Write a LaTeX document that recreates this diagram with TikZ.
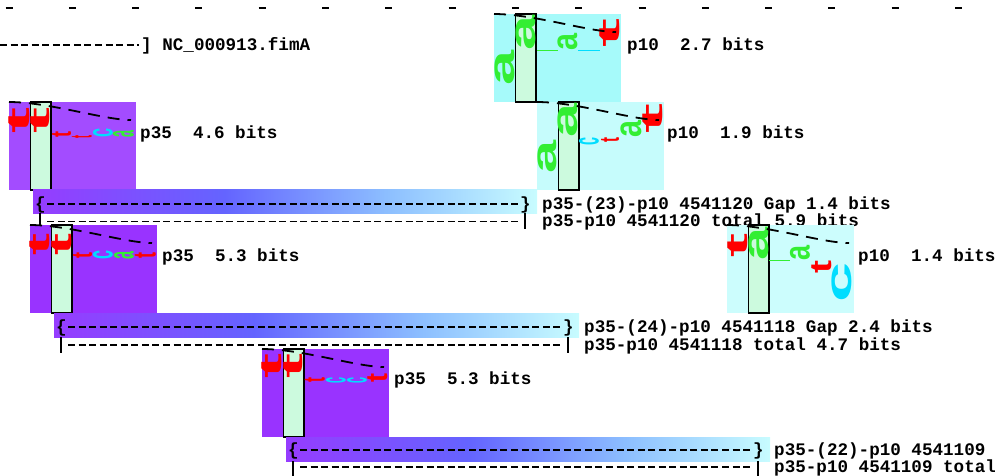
\documentclass[tikz,border=0pt]{standalone}
\usepackage{fontspec}
\setmonofont{Liberation Mono}
\newfontfamily\logofont{Liberation Sans}
\newcommand{\mono}{\ttfamily\bfseries\fontsize{17.6}{20}\selectfont}

\definecolor{tenA}{RGB}{166,250,250}
\definecolor{tenB}{RGB}{198,252,252}
\definecolor{tenC}{RGB}{204,253,253}
\definecolor{fiveA}{RGB}{163,76,255}
\definecolor{fiveB}{RGB}{153,51,255}
\definecolor{colfill}{RGB}{204,250,222}
\definecolor{baseA}{RGB}{51,238,51}
\definecolor{baseC}{RGB}{0,221,255}
\definecolor{baseT}{RGB}{255,0,0}
\definecolor{barL}{RGB}{150,60,255}
\definecolor{barM}{RGB}{100,100,255}
\definecolor{barS}{RGB}{140,190,255}
\definecolor{barR}{RGB}{200,252,255}
\pgfdeclarehorizontalshading{gapbar}{100bp}{color(0bp)=(barL); color(25bp)=(barL); color(44bp)=(barM); color(60bp)=(barS); color(75bp)=(barR); color(100bp)=(barR)}

% one letter of a logo: x y w h colour letter (inside the logo)
\newcommand{\logobase}[6]{%
  \pgfmathsetmacro\bx{#1+#3/2}\pgfmathsetmacro\by{#2+#4/2}%
  \node[inner sep=0pt,rotate=90,text=#5] at (\bx,\by) {\resizebox*{#4pt}{#3pt}{\logofont\bfseries #6}};}
\newcommand{\logoframe}[1]{%
  \fill[#1] (0,0) rectangle (127,88);
  \draw[colbox] (21.5,0) rectangle (42,88);}
\newcommand{\logocurve}{\draw[decay] (0,0) .. controls (40,0) and (95,18) .. (122,18);}

\begin{document}
\begin{tikzpicture}[x=1pt,y=-1pt,
  lbl/.style={anchor=base west,inner sep=0pt,font=\mono},
  rulertick/.style={line width=1.8pt},
  rule/.style={line width=1.4pt,dash pattern=on 7pt off 3.55pt},
  bar/.style={line width=1.6pt},
  colbox/.style={draw=black,line width=1.3pt,fill=colfill},
  decay/.style={line width=1.8pt,dash pattern=on 12pt off 8pt},
  zero/.style={line width=0.6pt}]
\useasboundingbox (0,0) rectangle (995,475);

% ruler
\foreach \i in {0,...,15}
  \draw[rulertick] ({9+63.3*\i-3.5},8) -- ++(7,0);

% site
\draw[rule] (0,45) -- (139,45);
\node[lbl] (fimA) at (141,50) {] NC\_000913.fimA};

% p10 2.7 bits
\begin{scope}[shift={(494,14)}]
 \logoframe{tenA}
 \logobase{1}{36}{20}{35}{baseA}{a}
 \logobase{22}{1}{20}{35}{baseA}{a}
 \draw[zero,baseA] (43,36) -- (64,36);
 \logobase{64}{19}{20}{17}{baseA}{a}
 \draw[zero,baseC] (84,36) -- (106,36);
 \logobase{106}{4}{20}{29}{baseT}{t}
 \logocurve
\end{scope}
\node[lbl] (tenfirst) at (627,50) {p10\ \ 2.7 bits};

% p35 4.6 bits
\begin{scope}[shift={(9,102)}]
 \logoframe{fiveA}
 \logobase{0}{5}{21}{26}{baseT}{t}
 \logobase{22}{5}{19}{26}{baseT}{t}
 \logobase{43}{29}{19}{6}{baseT}{t}
 \logobase{63}{33}{20}{3}{baseT}{t}
 \logobase{84}{26}{20}{9}{baseC}{c}
 \logobase{104}{28}{21}{7}{baseA}{a}
 \logocurve
\end{scope}
\node[lbl] (fivefirst) at (140,138) {p35\ \ 4.6 bits};

% p10 1.9 bits
\begin{scope}[shift={(537,102)}]
 \logoframe{tenB}
 \logobase{1}{38}{19}{33}{baseA}{a}
 \logobase{21}{1}{20}{34}{baseA}{a}
 \logobase{42}{35}{20}{8}{baseC}{c}
 \logobase{64}{35}{18}{5}{baseT}{t}
 \logobase{84}{18}{21}{17}{baseA}{a}
 \logobase{106}{1}{20}{30}{baseT}{t}
 \logocurve
\end{scope}
\node[lbl] (tensecond) at (667,138) {p10\ \ 1.9 bits};

% gap 23
\shade[shading=gapbar] (33,189) rectangle (537,213);
\node[lbl] (openA) at (35,209) {\{};
\node[lbl] (closeA) at (520,209) {\}};
\draw[rule] (47,204) -- (519,204);
\draw[bar] (40,213) -- (40,229);
\draw[bar] (525,213) -- (525,229);
\draw[rule] (47,221.5) -- (519,221.5);
\node[lbl] (gapA) at (542,209) {p35-(23)-p10 4541120 Gap 1.4 bits};
\node[lbl] (totalA) at (542,226.5) {p35-p10 4541120 total 5.9 bits};

% p35 5.3 bits
\begin{scope}[shift={(30,225)}]
 \logoframe{fiveB}
 \logobase{0}{8}{20}{22}{baseT}{t}
 \logobase{22}{8}{20}{22}{baseT}{t}
 \logobase{43}{27}{19}{6}{baseT}{t}
 \logobase{63}{25}{20}{9}{baseC}{c}
 \logobase{84}{26}{20}{8}{baseA}{a}
 \logobase{105}{27}{21}{6}{baseT}{t}
 \logocurve
\end{scope}
\node[lbl] (fivesecond) at (162,261) {p35\ \ 5.3 bits};

% p10 1.4 bits
\begin{scope}[shift={(727,225)}]
 \logoframe{tenC}
 \logobase{1}{8}{20}{24}{baseT}{t}
 \logobase{22}{2}{20}{33}{baseA}{a}
 \draw[zero,baseA] (42,35) -- (63,35);
 \logobase{63}{20}{20}{15}{baseA}{a}
 \logobase{85}{35}{20}{13}{baseT}{t}
 \logobase{105}{37}{20}{40}{baseC}{c}
 \logocurve
\end{scope}
\node[lbl] (tenthird) at (858,261) {p10\ \ 1.4 bits};

% gap 24
\shade[shading=gapbar] (54,313) rectangle (579,337);
\node[lbl] (openB) at (56,332) {\{};
\node[lbl] (closeB) at (563,332) {\}};
\draw[rule] (68,327) -- (562,327);
\draw[bar] (61,337) -- (61,353);
\draw[bar] (568,337) -- (568,353);
\draw[rule] (68,345) -- (562,345);
\node[lbl] (gapB) at (584,332) {p35-(24)-p10 4541118 Gap 2.4 bits};
\node[lbl] (totalB) at (584,350) {p35-p10 4541118 total 4.7 bits};

% p35 5.3 bits
\begin{scope}[shift={(262,349)}]
 \logoframe{fiveB}
 \logobase{0}{4}{20}{25}{baseT}{t}
 \logobase{22}{4}{19}{25}{baseT}{t}
 \logobase{43}{28}{20}{5}{baseT}{t}
 \logobase{64}{28}{20}{6}{baseC}{c}
 \logobase{85}{28}{20}{6}{baseC}{c}
 \logobase{106}{24}{20}{9}{baseT}{t}
 \logocurve
\end{scope}
\node[lbl] (fivethird) at (394,384) {p35\ \ 5.3 bits};

% gap 22
\shade[shading=gapbar] (286,437) rectangle (770,461);
\node[lbl] (openC) at (288,455) {\{};
\node[lbl] (closeC) at (753,455) {\}};
\draw[rule] (300,450) -- (752,450);
\draw[bar] (293,461) -- (293,477);
\draw[bar] (758,461) -- (758,477);
\draw[rule] (300,467) -- (752,467);
\node[lbl] (gapC) at (774,455) {p35-(22)-p10 4541109};
\node[lbl] (totalC) at (774,472) {p35-p10 4541109 total};
\end{tikzpicture}
\end{document}
